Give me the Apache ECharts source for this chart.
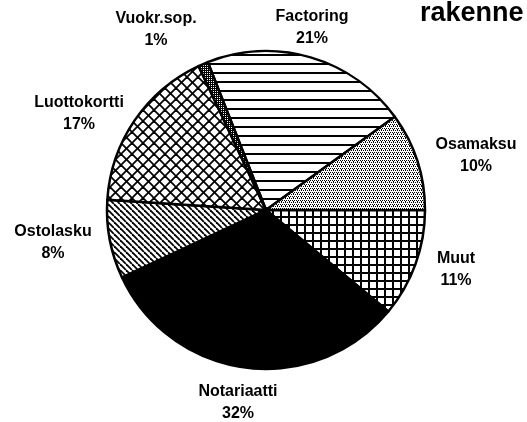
<!DOCTYPE html>
<html>
<head>
<meta charset="utf-8">
<script src="https://cdn.jsdelivr.net/npm/echarts@6/dist/echarts.min.js"></script>
<style>
  html, body { margin: 0; padding: 0; background: #fff; }
  #main { width: 527px; height: 422px; }
</style>
</head>
<body>
<div id="main"></div>
<script>
// slices, clockwise from the Factoring edge
var categories = ['Factoring', 'Osamaksu', 'Muut', 'Notariaatti', 'Ostolasku', 'Luottokortti', 'Vuokr.sop.'];
var shares = [21, 10, 11, 32, 8, 17, 1];
var fills = ['hlines', 'dots', 'grid', 'solid', 'diag', 'cross', 'dense'];

// where each label sits (pixels)
var labelPos = {
    'Factoring': [312, 28],
    'Osamaksu': [476, 156],
    'Muut': [456, 270],
    'Notariaatti': [238, 403],
    'Ostolasku': [53, 243],
    'Luottokortti': [79, 114],
    'Vuokr.sop.': [156, 30]
};

function makePattern(kind) {
    var c = document.createElement('canvas');
    var s = 8;
    if (kind == 'hlines') s = 9;
    if (kind == 'diag') s = 6;
    if (kind == 'cross') s = 11;
    if (kind == 'dots') s = 4;
    if (kind == 'dense') s = 2;
    c.width = s; c.height = s;
    var g = c.getContext('2d');
    g.fillStyle = '#fff';
    g.fillRect(0, 0, s, s);
    g.fillStyle = '#000';
    g.strokeStyle = '#000';
    if (kind == 'solid') {
        g.fillRect(0, 0, s, s);
    } else if (kind == 'hlines') {
        g.fillRect(0, 0, s, 2);
    } else if (kind == 'grid') {
        g.fillRect(0, 0, s, 2);
        g.fillRect(0, 0, 2, s);
    } else if (kind == 'dots') {
        // staggered stipple
        g.fillRect(0, 0, 1, 1);
        g.fillRect(2, 0, 1, 1);
        g.fillRect(1, 2, 1, 1);
        g.fillRect(3, 2, 1, 1);
        g.fillRect(1, 1, 1, 1);
    } else if (kind == 'dense') {
        g.fillRect(0, 0, 2, 1);
        g.fillRect(0, 1, 1, 1);
    } else if (kind == 'diag') {
        g.lineWidth = 1.8;
        [-s, 0, s].forEach(function (o) {
            g.beginPath(); g.moveTo(o, 0); g.lineTo(o + s, s); g.stroke();
        });
    } else if (kind == 'cross') {
        g.lineWidth = 1.8;
        [-s, 0, s].forEach(function (o) {
            g.beginPath(); g.moveTo(o, 0); g.lineTo(o + s, s); g.stroke();
            g.beginPath(); g.moveTo(o + s, 0); g.lineTo(o, s); g.stroke();
        });
    }
    return { image: c, repeat: 'repeat' };
}

var pieData = categories.map(function (name, i) {
    return {
        name: name,
        value: shares[i],
        itemStyle: { color: makePattern(fills[i]) }
    };
});

var chart = echarts.init(document.getElementById('main'), null, { renderer: 'canvas' });
var option = {
    backgroundColor: '#fff',
    animation: false,
    title: {
        text: 'rakenne',
        left: 415,
        top: -5,
        textStyle: { fontFamily: 'Liberation Sans', fontSize: 27, fontWeight: 'bold', color: '#000' }
    },
    series: [{
        type: 'pie',
        center: [266, 210],
        radius: [0, 159],
        startAngle: 111.5,
        clockwise: true,
        avoidLabelOverlap: false,
        data: pieData,
        itemStyle: { borderColor: '#000', borderWidth: 2.5 },
        label: {
            show: true,
            formatter: '{b}\n{c}%',
            color: '#000',
            fontFamily: 'Liberation Sans',
            fontSize: 16,
            fontWeight: 'bold',
            lineHeight: 22,
            align: 'center'
        },
        labelLine: { show: false },
        labelLayout: function (params) {
            var p = labelPos[categories[params.dataIndex]];
            return { x: p[0], y: p[1], align: 'center', verticalAlign: 'middle' };
        },
        emphasis: { disabled: true }
    }]
};
chart.setOption(option);
</script>
</body>
</html>
